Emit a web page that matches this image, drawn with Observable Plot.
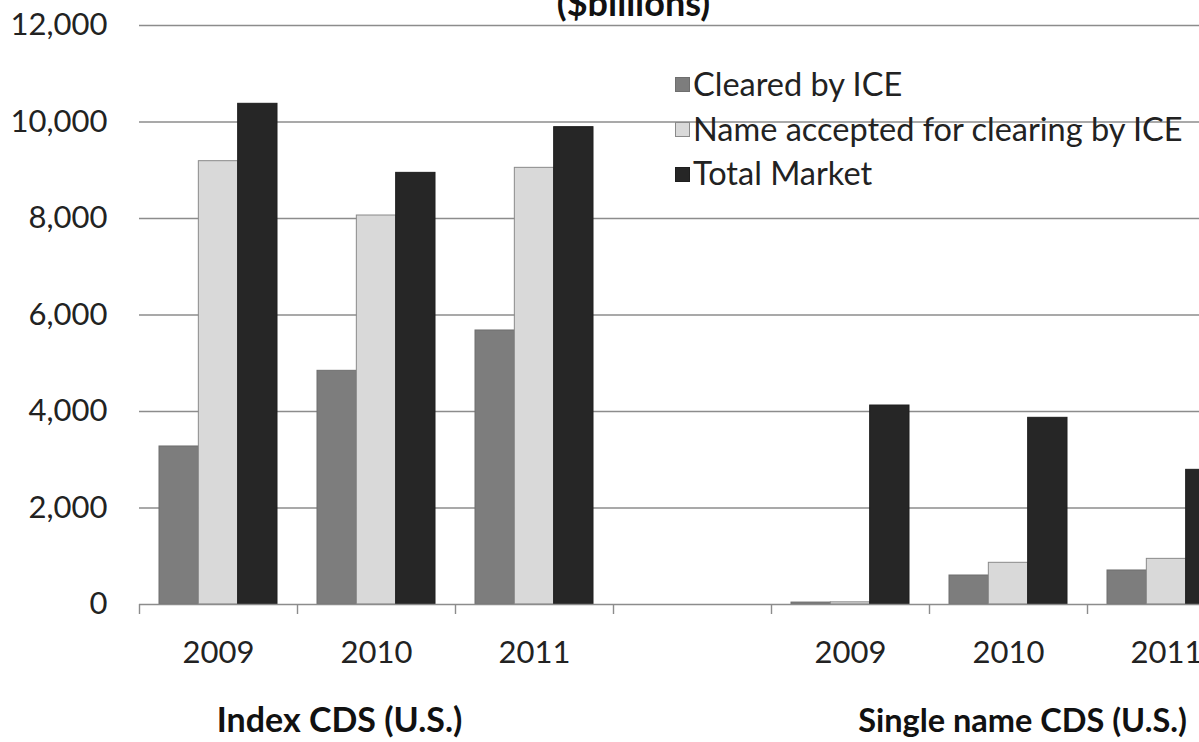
<!DOCTYPE html>
<html><head><meta charset="utf-8">
<script src="https://cdn.jsdelivr.net/npm/d3@7"></script>
<script src="https://cdn.jsdelivr.net/npm/@observablehq/plot@0.6"></script>
<style>
html,body{margin:0;padding:0;background:#fff;overflow:hidden;}
#wrap{position:relative;width:1199px;height:742px;overflow:hidden;}
#wrap svg{position:absolute;left:0;top:0;max-width:none !important;}
#legend{position:absolute;left:675px;top:61px;font-family:Lato,sans-serif;font-size:32.5px;color:#222;}
.row{display:flex;align-items:center;height:44.7px;white-space:nowrap;}
.sw{width:15px;height:15px;margin-right:3px;margin-top:3px;box-sizing:border-box;flex:none;}
</style></head><body><div id="wrap"></div>
<script>
// ---- data ----
const categories = ["I2009","I2010","I2011","gap","S2009","S2010","S2011"];
const yearLabels = ["2009","2010","2011","","2009","2010","2011"];
const series = ["Cleared by ICE","Name accepted for clearing by ICE","Total Market"];
const cleared  = [3275, 4843, 5679, null, 40, 601, 705];
const accepted = [9188, 8062, 9050, null, 45, 864, 946];
const total    = [10377, 8946, 9893, null, 4124, 3869, 2791];
const groupLabels = ["Index CDS (U.S.)", "Single name CDS (U.S.)"];
const yTicks = [0, 2000, 4000, 6000, 8000, 10000, 12000];
const title = "($billions)";

// ---- build table ----
const valuesBySeries = [cleared, accepted, total];
const rows = [];
series.forEach((s, si) => categories.forEach((c, ci) => {
  const v = valuesBySeries[si][ci];
  if (v != null) rows.push({cat: c, series: s, value: v});
}));

const colors = ["#7d7d7d", "#d9d9d9", "#262626"];
const strokes = ["#6e6e6e", "#8a8a8a", "#1e1e1e"];

const W = 1280, ML = 139, MR = 35, H = 742, MT = 25, MB = 138;
const bw = (W - ML - MR) / categories.length;
const padO = bw * 20 / 158;
const barW = (bw - 2 * padO) / 3;

const barMarks = series.map((s, i) => Plot.barY(rows.filter(r => r.series === s), {
  x: "cat", y: "value", fill: colors[i], stroke: strokes[i], strokeWidth: 1,
  insetLeft: padO + i * barW, insetRight: bw - padO - (i + 1) * barW
}));

const yearOf = d => yearLabels[categories.indexOf(d)];

const chart = Plot.plot({
  width: W, height: H, marginLeft: ML, marginRight: MR, marginTop: MT, marginBottom: MB,
  style: {fontFamily: "Lato, sans-serif", color: "#222", background: "transparent", maxWidth: "none"},
  x: {domain: categories, paddingInner: 0, paddingOuter: 0, axis: null},
  y: {domain: [0, 12000], axis: null},
  marks: [
    Plot.ruleY(yTicks.filter(d => d > 0), {stroke: "#8c8c8c", strokeWidth: 1.4}),
    ...barMarks,
    Plot.ruleY([0], {stroke: "#8c8c8c", strokeWidth: 1.4}),
    Plot.axisY(yTicks, {tickSize: 0, tickPadding: 32, tickFormat: d3.format(","), fontSize: 31, label: null}),
    Plot.axisX({tickSize: 10, dx: -bw / 2, tickFormat: () => "", stroke: "#8c8c8c", strokeWidth: 1.4, label: null}),
    Plot.axisX({tickSize: 0, tickPadding: 36, tickFormat: yearOf, fontSize: 31, label: null}),
    Plot.text([groupLabels[0]], {x: () => categories[1], y: () => 0, dx: -37, dy: 117, lineAnchor: "middle",
      fontWeight: "bold", fontSize: 34, fill: "#111"}),
    Plot.text([groupLabels[1]], {x: () => categories[5], y: () => 0, dx: 14, dy: 117, lineAnchor: "middle",
      fontWeight: "bold", fontSize: 32.5, fill: "#111"}),
    Plot.text([title], {frameAnchor: "top", dx: -59, dy: -21, lineAnchor: "middle",
      fontWeight: "bold", fontSize: 36, fill: "#111"})
  ]
});
chart.style.maxWidth = "none";
chart.style.width = W + "px";
chart.style.height = H + "px";
const wrap = document.getElementById("wrap");
wrap.appendChild(chart);

// ---- legend ----
const legend = document.createElement("div");
legend.id = "legend";
series.forEach((s, i) => {
  const row = document.createElement("div");
  row.className = "row";
  const sw = document.createElement("span");
  sw.className = "sw";
  sw.style.background = colors[i];
  sw.style.border = "1px solid " + strokes[i];
  const t = document.createElement("span");
  t.textContent = s;
  row.appendChild(sw); row.appendChild(t);
  legend.appendChild(row);
});
wrap.appendChild(legend);
</script>
</body></html>
